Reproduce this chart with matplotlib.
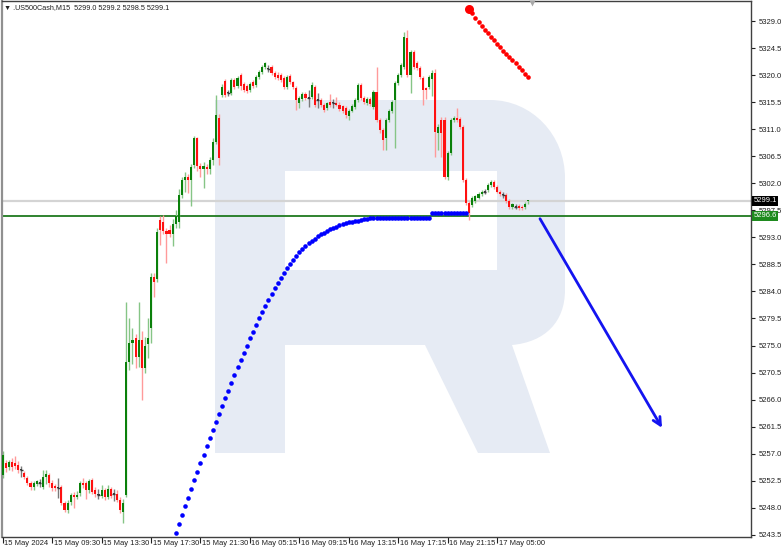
import matplotlib
matplotlib.use("Agg")
import matplotlib.pyplot as plt
import matplotlib.transforms as mtransforms
from matplotlib.path import Path
from matplotlib.patches import PathPatch, Rectangle
import numpy as np

# M15 свечи US500Cash, 15-17 May 2024
open_ = [
    5253.5, 5255.5, 5254.8, 5255.7, 5255.5, 5255.2, 5254.3, 5253.8, 5253.0, 5252.1,
    5251.5, 5252.0, 5252.2, 5251.5, 5253.1, 5253.4, 5252.1, 5251.6, 5251.3, 5251.5,
    5248.8, 5247.6, 5249.0, 5250.1, 5249.8, 5250.5, 5252.1, 5252.1, 5250.9, 5252.6,
    5250.9, 5250.1, 5250.0, 5250.9, 5249.8, 5251.1, 5250.3, 5250.3, 5249.3, 5247.3,
    5250.1, 5272.3, 5275.4, 5276.3, 5273.1, 5275.9, 5271.3, 5275.2, 5278.0, 5286.4,
    5286.0, 5295.9, 5295.5, 5294.0, 5294.2, 5293.6, 5295.3, 5295.6, 5300.1, 5302.5,
    5303.0, 5302.6, 5305.0, 5309.5, 5304.8, 5304.3, 5304.7, 5304.3, 5305.9, 5308.9,
    5312.9, 5316.7, 5319.0, 5317.0, 5317.0, 5319.2, 5318.2, 5320.0, 5318.5, 5318.2,
    5317.6, 5318.9, 5318.3, 5319.7, 5320.5, 5321.3, 5321.0, 5321.3, 5320.3, 5320.0,
    5320.0, 5319.5, 5318.0, 5319.9, 5318.8, 5317.9, 5315.4, 5316.0, 5316.9, 5316.2,
    5316.4, 5318.0, 5315.9, 5315.9, 5315.0, 5314.5, 5315.5, 5315.3, 5315.4, 5315.1,
    5314.8, 5314.5, 5313.2, 5314.1, 5314.7, 5315.9, 5318.4, 5316.2, 5315.3, 5316.0,
    5314.7, 5317.2, 5312.5, 5310.9, 5309.5, 5312.5, 5314.0, 5315.9, 5318.7, 5320.0,
    5321.3, 5326.2, 5320.0, 5323.8, 5322.0, 5321.2, 5319.5, 5317.8, 5318.0, 5319.3,
    5320.3, 5310.4, 5312.5, 5312.5, 5303.0, 5307.0, 5312.5, 5312.9, 5312.7, 5311.4,
    5302.5, 5298.7, 5298.4, 5299.0, 5299.6, 5300.2, 5300.6, 5300.9, 5301.7, 5302.2,
    5301.4, 5300.6, 5300.0, 5300.0, 5299.0, 5298.1, 5298.1, 5298.3, 5298.1, 5298.0,
    5299.0,
]
high = [
    5257.5, 5256.0, 5256.0, 5256.3, 5256.6, 5255.8, 5255.0, 5254.2, 5253.3, 5252.5,
    5252.4, 5252.7, 5252.8, 5254.3, 5254.3, 5253.8, 5252.6, 5252.0, 5253.0, 5251.8,
    5249.2, 5249.3, 5250.5, 5250.6, 5250.8, 5252.4, 5253.0, 5252.5, 5252.8, 5253.0,
    5251.4, 5251.2, 5251.8, 5251.3, 5251.8, 5251.5, 5251.1, 5251.0, 5249.8, 5249.5,
    5282.2, 5279.6, 5278.0, 5277.0, 5282.2, 5277.5, 5276.5, 5279.5, 5287.0, 5287.0,
    5294.5, 5296.5, 5296.8, 5294.5, 5295.0, 5296.0, 5297.5, 5301.0, 5303.0, 5303.8,
    5303.5, 5305.2, 5309.8, 5309.7, 5305.3, 5305.5, 5305.2, 5306.3, 5309.5, 5316.7,
    5313.5, 5318.6, 5319.4, 5317.6, 5319.5, 5319.6, 5319.8, 5320.4, 5318.8, 5318.5,
    5318.8, 5319.2, 5320.0, 5320.8, 5321.6, 5322.2, 5321.6, 5321.6, 5320.6, 5320.5,
    5320.4, 5319.8, 5320.0, 5320.2, 5319.1, 5318.2, 5316.5, 5317.2, 5317.2, 5317.5,
    5318.8, 5318.4, 5317.0, 5316.2, 5315.3, 5315.6, 5316.8, 5316.0, 5316.3, 5315.5,
    5315.1, 5314.8, 5314.4, 5315.2, 5316.2, 5318.7, 5318.7, 5316.5, 5316.3, 5316.3,
    5317.5, 5321.3, 5312.8, 5311.2, 5312.8, 5314.3, 5315.8, 5319.0, 5320.3, 5322.0,
    5327.2, 5327.5, 5324.2, 5324.1, 5322.3, 5321.5, 5319.8, 5318.1, 5320.0, 5320.8,
    5321.0, 5311.8, 5313.0, 5313.0, 5307.3, 5312.8, 5313.2, 5314.5, 5313.0, 5311.7,
    5302.8, 5299.0, 5299.8, 5300.1, 5300.5, 5300.9, 5301.0, 5302.0, 5302.5, 5302.5,
    5301.7, 5300.9, 5300.5, 5300.3, 5299.3, 5298.8, 5298.6, 5298.6, 5298.4, 5298.9,
    5299.2,
]
low = [
    5253.0, 5254.0, 5254.3, 5254.2, 5254.5, 5253.8, 5253.2, 5252.8, 5251.8, 5251.0,
    5251.0, 5251.6, 5251.5, 5251.2, 5252.0, 5251.5, 5250.8, 5250.8, 5249.6, 5248.5,
    5247.3, 5247.2, 5248.5, 5248.0, 5249.4, 5250.0, 5251.3, 5249.5, 5250.5, 5250.3,
    5249.8, 5249.5, 5249.6, 5249.3, 5249.5, 5249.6, 5249.2, 5249.0, 5247.2, 5245.5,
    5249.8, 5271.0, 5272.0, 5271.3, 5271.5, 5265.9, 5270.5, 5273.0, 5275.5, 5283.0,
    5285.5, 5291.7, 5293.5, 5288.7, 5293.0, 5291.5, 5294.5, 5294.5, 5299.5, 5300.5,
    5300.3, 5298.2, 5304.5, 5304.0, 5303.0, 5301.2, 5303.5, 5303.6, 5305.0, 5308.5,
    5305.0, 5316.3, 5316.4, 5316.5, 5316.7, 5317.7, 5317.9, 5317.5, 5317.2, 5317.0,
    5317.2, 5317.9, 5318.0, 5319.4, 5320.2, 5321.0, 5320.5, 5320.0, 5319.4, 5319.2,
    5318.9, 5317.7, 5317.7, 5318.5, 5317.7, 5314.2, 5314.5, 5315.7, 5315.9, 5314.7,
    5316.0, 5314.7, 5314.5, 5314.7, 5313.9, 5314.2, 5314.7, 5314.6, 5314.8, 5314.0,
    5313.7, 5312.8, 5312.6, 5313.8, 5314.4, 5315.6, 5315.9, 5315.2, 5315.0, 5314.9,
    5314.4, 5312.2, 5310.4, 5307.6, 5307.5, 5312.2, 5313.7, 5307.9, 5318.4, 5319.7,
    5321.0, 5319.7, 5317.0, 5321.0, 5320.8, 5319.4, 5315.0, 5316.0, 5317.7, 5316.5,
    5306.4, 5307.5, 5306.4, 5302.7, 5302.6, 5306.7, 5312.2, 5312.2, 5311.1, 5302.2,
    5298.4, 5295.9, 5298.1, 5298.7, 5299.3, 5299.9, 5300.2, 5300.6, 5301.4, 5301.1,
    5300.3, 5299.9, 5299.5, 5298.7, 5297.8, 5297.8, 5297.7, 5297.5, 5297.5, 5297.8,
    5298.5,
]
close_ = [
    5256.8, 5254.6, 5255.7, 5254.8, 5254.9, 5254.3, 5254.3, 5253.1, 5252.1, 5251.4,
    5252.1, 5252.4, 5252.2, 5253.1, 5253.6, 5252.1, 5251.3, 5251.3, 5251.3, 5248.8,
    5247.6, 5248.8, 5250.1, 5249.8, 5250.1, 5252.1, 5251.8, 5250.9, 5252.4, 5250.6,
    5250.3, 5250.1, 5250.9, 5249.8, 5251.1, 5250.0, 5250.3, 5249.3, 5247.6, 5248.8,
    5272.3, 5275.4, 5276.0, 5273.1, 5276.0, 5271.3, 5275.0, 5276.3, 5286.4, 5285.5,
    5293.9, 5294.2, 5294.0, 5293.6, 5293.6, 5295.3, 5296.5, 5300.1, 5302.5, 5303.0,
    5302.5, 5304.7, 5309.5, 5304.8, 5304.3, 5304.9, 5304.3, 5305.9, 5308.9, 5313.4,
    5306.2, 5318.0, 5316.7, 5317.0, 5319.2, 5318.0, 5319.5, 5318.2, 5317.6, 5317.4,
    5318.5, 5318.2, 5319.7, 5320.5, 5321.3, 5322.0, 5321.0, 5320.3, 5319.7, 5319.5,
    5319.2, 5318.0, 5319.7, 5318.8, 5318.0, 5315.9, 5316.2, 5316.9, 5316.2, 5316.2,
    5318.4, 5315.0, 5315.9, 5315.0, 5314.2, 5315.3, 5315.0, 5315.3, 5315.1, 5314.4,
    5314.0, 5313.4, 5314.1, 5314.9, 5315.9, 5318.4, 5316.2, 5315.5, 5316.0, 5315.2,
    5317.2, 5312.5, 5310.9, 5309.2, 5312.5, 5314.0, 5315.5, 5318.7, 5320.0, 5321.7,
    5326.3, 5320.0, 5323.8, 5321.3, 5321.1, 5319.7, 5317.5, 5317.5, 5319.7, 5320.3,
    5310.5, 5311.4, 5310.4, 5303.0, 5307.0, 5312.5, 5312.9, 5312.5, 5311.4, 5302.5,
    5298.7, 5297.0, 5299.5, 5299.8, 5300.2, 5300.6, 5300.6, 5301.7, 5302.2, 5301.4,
    5300.6, 5300.2, 5300.0, 5299.0, 5298.1, 5298.5, 5298.1, 5297.9, 5297.9, 5298.6,
    5299.1,
]

# синие точки (индикатор), начиная с бара 56
blue_start = 56
blue_dots = [
    5243.8, 5245.3, 5246.8, 5248.3, 5249.7, 5251.2, 5252.6, 5254.0, 5255.4, 5256.8,
    5258.2, 5259.6, 5261.0, 5262.3, 5263.6, 5264.9, 5266.2, 5267.5, 5268.8, 5270.1,
    5271.4, 5272.6, 5273.8, 5275.0, 5276.2, 5277.3, 5278.4, 5279.5, 5280.6, 5281.6,
    5282.6, 5283.6, 5284.5, 5285.4, 5286.3, 5287.1, 5287.9, 5288.6, 5289.3, 5289.9,
    5290.5, 5291.0, 5291.5, 5292.0, 5292.4, 5292.8, 5293.2, 5293.5, 5293.8, 5294.1,
    5294.4, 5294.6, 5294.8, 5295.0, 5295.2, 5295.4, 5295.5, 5295.6, 5295.7, 5295.8,
    5295.9, 5296.0, 5296.1, 5296.2, 5296.2, 5296.2, 5296.2, 5296.2, 5296.2, 5296.2,
    5296.2, 5296.2, 5296.2, 5296.2, 5296.2, 5296.2, 5296.2, 5296.2, 5296.2, 5296.2,
    5296.2, 5296.2, 5296.2, 5297.0, 5297.0, 5297.0, 5297.0, 5297.0, 5297.0, 5297.0,
    5297.0, 5297.0, 5297.0, 5297.0, 5297.0,
]

# красные точки, начиная с бара 151
red_start = 151
red_dots = [
    5331.0, 5330.3, 5329.5, 5328.8, 5328.2, 5327.5, 5327.0, 5326.3, 5325.8, 5325.2,
    5324.7, 5324.0, 5323.5, 5323.0, 5322.5, 5322.0, 5321.3, 5320.8, 5320.2, 5319.7,
]

# прогнозная стрелка (бар, цена)
arrow_from = (173.9, 5296.1)
arrow_to = (213.4, 5261.3)

bid_price = 5299.1
level_price = 5296.6

y_ticks = [5243.5, 5248.0, 5252.5, 5257.0, 5261.5, 5266.0, 5270.5, 5275.0, 5279.5, 5284.0,
           5288.5, 5293.0, 5297.5, 5302.0, 5306.5, 5311.0, 5315.5, 5320.0, 5324.5, 5329.0]
x_ticks = [0, 16, 32, 48, 64, 80, 96, 112, 128, 144, 160]
x_labels = ["15 May 2024", "15 May 09:30", "15 May 13:30", "15 May 17:30", "15 May 21:30",
            "16 May 05:15", "16 May 09:15", "16 May 13:15", "16 May 17:15", "16 May 21:15",
            "17 May 05:00"]

header = "\u25bc .US500Cash,M15  5299.0 5299.2 5298.5 5299.1"

plt.rcParams['font.family'] = ['Liberation Sans', 'DejaVu Sans']

W, H = 782, 554
fig = plt.figure(figsize=(W / 100, H / 100), dpi=100)
ax = fig.add_axes([2 / W, 17 / H, 749 / W, 536 / H])
ax.set_xlim(-0.23, 242.2)
ax.set_ylim(5243.14, 5332.33)

# водяной знак (логотип R), в пикселях картинки
px = mtransforms.Affine2D().scale(1 / W, -1 / H).translate(0, 1) + fig.transFigure
wm_col = '#e6ebf4'
verts = [(215, 100), (490, 100), (532, 100), (565, 135), (565, 178),
         (565, 290), (565, 322), (545, 342), (512, 345),
         (550, 453), (478, 453), (425, 345), (285, 345), (285, 453), (215, 453), (215, 100)]
codes = [Path.MOVETO, Path.LINETO, Path.CURVE4, Path.CURVE4, Path.CURVE4,
         Path.LINETO, Path.CURVE4, Path.CURVE4, Path.CURVE4,
         Path.LINETO, Path.LINETO, Path.LINETO, Path.LINETO, Path.LINETO, Path.LINETO, Path.CLOSEPOLY]
ax.add_patch(PathPatch(Path(verts, codes), transform=px, fc=wm_col, ec='none', zorder=0.2))
ax.add_patch(Rectangle((285, 171), 212, 99, transform=px, fc='white', ec='none', zorder=0.3))

# линии цены
ax.axhline(bid_price, color='#d4d4d4', lw=1.6, zorder=1)
ax.axhline(level_price, color='#1f7a1f', lw=1.3, zorder=1.1)

# свечи
idx = np.arange(len(close_))
o = np.array(open_)
c = np.array(close_)
body_cols, wick_cols = [], []
for oo, cc in zip(o, c):
    if cc > oo:
        body_cols.append('#0a800a'); wick_cols.append('#86c586')
    elif cc < oo:
        body_cols.append('#ff1010'); wick_cols.append('#ff9a9a')
    else:
        body_cols.append('#3a3a3a'); wick_cols.append('#7a7a7a')
ax.vlines(idx, low, high, colors=wick_cols, lw=1, zorder=2)
bottoms = np.minimum(o, c)
heights = np.maximum(np.abs(c - o), 0.17)
ax.bar(idx, heights, bottom=bottoms, width=0.68, color=body_cols, lw=0, zorder=3)
doji = idx[o == c]
ax.hlines(c[o == c], doji - 0.5, doji + 0.5, colors='#3a3a3a', lw=1, zorder=3)

# индикаторы
bx = np.arange(blue_start, blue_start + len(blue_dots))
ax.plot(bx, blue_dots, 'o', ms=3.3, color='#0000ff', mec='none', zorder=4)
rx = np.arange(red_start, red_start + len(red_dots))
ax.plot(rx, red_dots, 'o', ms=3.3, color='#ff0000', mec='none', zorder=4)
ax.plot(rx[:1], red_dots[:1], 'o', ms=6.5, color='#ff0000', mec='none', zorder=4)

ax.annotate('', xy=arrow_to, xytext=arrow_from,
            arrowprops=dict(arrowstyle='->', color='#1414f0', lw=2, mutation_scale=14,
                            shrinkA=0, shrinkB=0), zorder=5)

# маркер сдвига графика
ax.plot([171.3], [5332.0], marker='v', ms=5, color='#a8a8a8', mec='none', clip_on=False, zorder=6)

# оси
for s in ax.spines.values():
    s.set_color('#404040')
    s.set_linewidth(1)
ax.spines['left'].set_color('#909090')
ax.spines['left'].set_linewidth(1.6)

ax.yaxis.tick_right()
ax.set_yticks(y_ticks)
ax.set_yticklabels([f"{v:.1f}" for v in y_ticks])
ax.tick_params(axis='y', direction='out', length=3, width=0.8, pad=2.5,
               labelsize=5.5, colors='#202020')
ax.set_xticks(x_ticks)
ax.set_xticklabels([])
ax.tick_params(axis='x', direction='out', length=4, width=0.8, colors='#202020')
blend_x = mtransforms.blended_transform_factory(ax.transData, ax.transAxes)
for t, lab in zip(x_ticks, x_labels):
    ax.text(t + 0.5, -0.006, lab, transform=blend_x, ha='left', va='top',
            fontsize=5.5, color='#202020', clip_on=False)

# метки текущих цен справа
blend_y = mtransforms.blended_transform_factory(ax.transAxes, ax.transData)
ax.text(1.003, bid_price, f"{bid_price:.1f}", transform=blend_y, ha='left', va='center',
        fontsize=5.5, color='white', zorder=10, clip_on=False,
        bbox=dict(boxstyle='square,pad=0.2', fc='black', ec='none'))
ax.text(1.003, level_price, f"{level_price:.1f}", transform=blend_y, ha='left', va='center',
        fontsize=5.5, color='white', zorder=10, clip_on=False,
        bbox=dict(boxstyle='square,pad=0.2', fc='#1f8a1f', ec='none'))

fig.text(4 / W, 1 - 8 / H, header, ha='left', va='center', fontsize=5.2, color='#202020')

fig.savefig("out.png", dpi=100)
